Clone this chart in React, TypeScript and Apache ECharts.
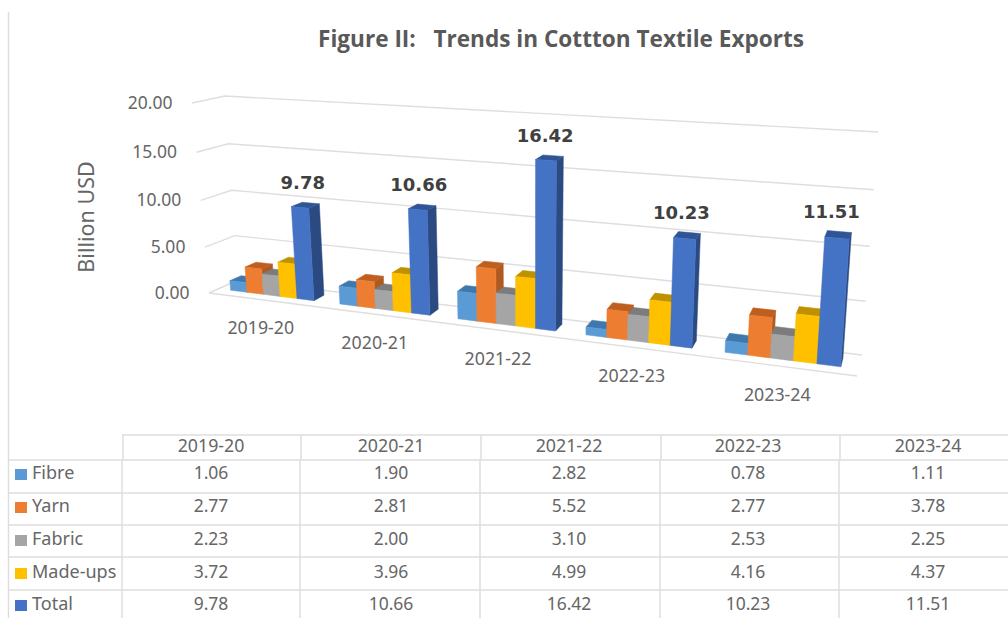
import React, { useEffect, useRef } from "react";
import * as echarts from "echarts";

const years = ["2019-20", "2020-21", "2021-22", "2022-23", "2023-24"];
const fibre = [1.06, 1.9, 2.82, 0.78, 1.11];
const yarn = [2.77, 2.81, 5.52, 2.77, 3.78];
const fabric = [2.23, 2.0, 3.1, 2.53, 2.25];
const madeUps = [3.72, 3.96, 4.99, 4.16, 4.37];
const total = [9.78, 10.66, 16.42, 10.23, 11.51];
const seriesNames = ["Fibre", "Yarn", "Fabric", "Made-ups", "Total"];
const seriesValues = [fibre, yarn, fabric, madeUps, total];
const valueTicks = [0, 5, 10, 15, 20];

// front, top and side shades of each bar
const shades = [
  ["#5B9BD5", "#3F78AE", "#41719C"],
  ["#ED7D31", "#BE5F20", "#AE5A21"],
  ["#A5A5A5", "#7C7C7C", "#7C7C7C"],
  ["#FFC000", "#BF9000", "#BF9000"],
  ["#4472C4", "#2F5597", "#2C4A82"],
];

const FONT = '"Noto Sans"';
const TEXT = "#666666";
const RULE = "#DEDEDE";

// Corners of the floor and ceiling of the 3D plot box on the page.
const box = {
  flb: [209, 293], blb: [238, 280], brb: [862, 355], frb: [857, 376],
  flt: [192, 103], blt: [225, 96], brt: [878, 132], frt: [873, 146],
};
const foreshorten = (t: number, r: number) => t / (t + r * (1 - t));
const mix = (a: number[], b: number[], t: number) => [a[0] + (b[0] - a[0]) * t, a[1] + (b[1] - a[1]) * t];

// u runs along the categories, v up the values, w from front to back; all 0..1.
function project(u: number, v: number, w: number) {
  const fu = foreshorten(u, 1.227);
  const fv = foreshorten(v, 1.05);
  const bottom = mix(mix(box.flb, box.frb, fu), mix(box.blb, box.brb, fu), w);
  const top = mix(mix(box.flt, box.frt, fu), mix(box.blt, box.brt, fu), w);
  return mix(bottom, top, fv);
}

const W_FRONT = 0.33;
const W_BACK = 0.72;
const GROUP_SHARE = 0.77;

function barRenderer(seriesIndex: number) {
  return (params: any, api: any) => {
    const sys = params.coordSys;
    const cat = api.value(0);
    const val = api.value(1);
    const p = api.coord([cat, val]);
    const band = api.size([1, 0])[0];
    const barW = (band * GROUP_SHARE) / seriesNames.length;
    const left = p[0] - (band * GROUP_SHARE) / 2 + barW * seriesIndex;
    const u0 = (left - sys.x) / sys.width;
    const u1 = (left + barW - sys.x) / sys.width;
    const v = (sys.y + sys.height - p[1]) / sys.height;
    const [front, topFace, side] = shades[seriesIndex];
    const poly = (points: number[][], fill: string) => ({
      type: "polygon",
      shape: { points },
      style: { fill, stroke: fill, lineWidth: 0.5 },
    });
    const children: any[] = [
      poly([project(u1, 0, W_FRONT), project(u1, 0, W_BACK), project(u1, v, W_BACK), project(u1, v, W_FRONT)], side),
      poly([project(u0, v, W_FRONT), project(u1, v, W_FRONT), project(u1, v, W_BACK), project(u0, v, W_BACK)], topFace),
      poly([project(u0, 0, W_FRONT), project(u1, 0, W_FRONT), project(u1, v, W_FRONT), project(u0, v, W_FRONT)], front),
    ];
    // The value above the tallest bar of each group
    if (seriesIndex === seriesNames.length - 1) {
      const a = project(u0, v, W_BACK);
      children.push({
        type: "text",
        x: (a[0] + project(u1, v, W_BACK)[0]) / 2 - 8,
        y: a[1] - 19.5,
        style: {
          text: val.toFixed(2),
          fill: "#404040",
          font: 'bold 18px "DejaVu Sans"',
          align: "center",
          verticalAlign: "middle",
        },
      });
    }
    return { type: "group", children };
  };
}

function wallRenderer(params: any, api: any) {
  const sys = params.coordSys;
  const val = api.value(0);
  const p = api.coord([0, val]);
  const v = (sys.y + sys.height - p[1]) / sys.height;
  const fl = project(0, v, 0);
  const line = (points: number[][]) => ({
    type: "polyline",
    shape: { points },
    style: { stroke: RULE, lineWidth: 1.4, fill: "none" },
  });
  const children: any[] = [line([fl, project(0, v, 1), project(1, v, 1)])];
  if (val === 0) children.push(line([fl, project(1, v, 0)]));
  children.push({
    type: "text",
    x: fl[0] - 19.5,
    y: fl[1] - 1,
    style: {
      text: val.toFixed(2),
      fill: TEXT,
      font: `17.5px ${FONT}`,
      align: "right",
      verticalAlign: "middle",
    },
  });
  return { type: "group", children };
}

function yearRenderer(params: any, api: any) {
  const sys = params.coordSys;
  const cat = api.value(0);
  const p = api.coord([cat, 0]);
  const at = project((p[0] - sys.x) / sys.width, 0, 0);
  return {
    type: "text",
    x: at[0] - 2,
    y: at[1] + 27.5,
    style: {
      text: years[cat],
      fill: TEXT,
      font: `17.8px ${FONT}`,
      align: "center",
      verticalAlign: "middle",
    },
  };
}

// Data table under the plot
const colLines = [122, 300, 480, 660, 839];
const colCentres = [211, 391, 569, 748, 928];
const rowLines = [460, 493, 525, 557, 590];
const rowCentres = [473, 506, 539, 572, 604];

function tableGraphics() {
  const out: any[] = [];
  const rule = (x1: number, y1: number, x2: number, y2: number) =>
    out.push({ type: "line", shape: { x1, y1, x2, y2 }, style: { stroke: RULE, lineWidth: 1.5 } });
  const label = (text: string, x: number, y: number, align: string, size: number) =>
    out.push({
      type: "text",
      x,
      y,
      style: { text, x: 0, y: 0, fill: TEXT, font: `${size}px ${FONT}`, align, verticalAlign: "middle" },
    });
  rule(8.5, 12, 8.5, 618);
  rule(122, 435, 1008, 435);
  rowLines.forEach((y) => rule(8.5, y, 1008, y));
  colLines.forEach((x) => {
    rule(x + 1, 435, x + 1, 460);
    rule(x, 460, x, 618);
  });
  years.forEach((y, c) => label(y, colCentres[c], 445, "center", 17.8));
  seriesNames.forEach((name, r) => {
    out.push({
      type: "rect",
      shape: { x: 15, y: rowCentres[r] - 4, width: 12, height: 11 },
      style: { fill: shades[r][0] },
    });
    label(name, 32, rowCentres[r] - 1, "left", 18);
    seriesValues[r].forEach((val, c) => label(val.toFixed(2), colCentres[c], rowCentres[r] - 1, "center", 17.5));
  });
  out.push({
    type: "text",
    x: 85,
    y: 217,
    rotation: Math.PI / 2,
    style: { text: "Billion USD", fill: TEXT, font: `21.5px ${FONT}`, align: "center", verticalAlign: "middle" },
  });
  return out;
}

export default function App() {
  const ref = useRef<HTMLDivElement>(null);
  useEffect(() => {
    const chart = echarts.init(ref.current!, undefined, { renderer: "svg" });
    chart.setOption({
      animation: false,
      backgroundColor: "#ffffff",
      title: {
        text: "Figure II:\u00A0\u00A0\u00A0Trends in Cottton Textile Exports",
        left: 313,
        top: 22,
        textStyle: { fontFamily: '"Open Sans"', fontWeight: "bold", fontSize: 22.6, color: "#595959" },
      },
      // The axes only supply the scales; the box projection draws everything on them.
      grid: { left: 100, right: 100, top: 100, bottom: 100 },
      xAxis: { type: "category", data: years, show: false },
      yAxis: { type: "value", min: 0, max: 20, interval: 5, show: false },
      graphic: { elements: tableGraphics() },
      series: [
        {
          type: "custom",
          name: "walls",
          coordinateSystem: "cartesian2d",
          data: valueTicks.map((t) => [t]),
          encode: { y: 0 },
          renderItem: wallRenderer,
          clip: false,
          silent: true,
        },
        {
          type: "custom",
          name: "years",
          coordinateSystem: "cartesian2d",
          data: years.map((_, i) => [i]),
          encode: { x: 0 },
          renderItem: yearRenderer,
          clip: false,
          silent: true,
        },
        ...seriesNames.map((name, s) => ({
          type: "custom",
          name,
          coordinateSystem: "cartesian2d",
          data: seriesValues[s].map((val, i) => [i, val]),
          encode: { x: 0, y: 1 },
          renderItem: barRenderer(s),
          clip: false,
          silent: true,
        })),
      ],
    });
    return () => chart.dispose();
  }, []);
  return <div ref={ref} style={{ position: "fixed", left: 0, top: 0, width: 1008, height: 618 }} />;
}
